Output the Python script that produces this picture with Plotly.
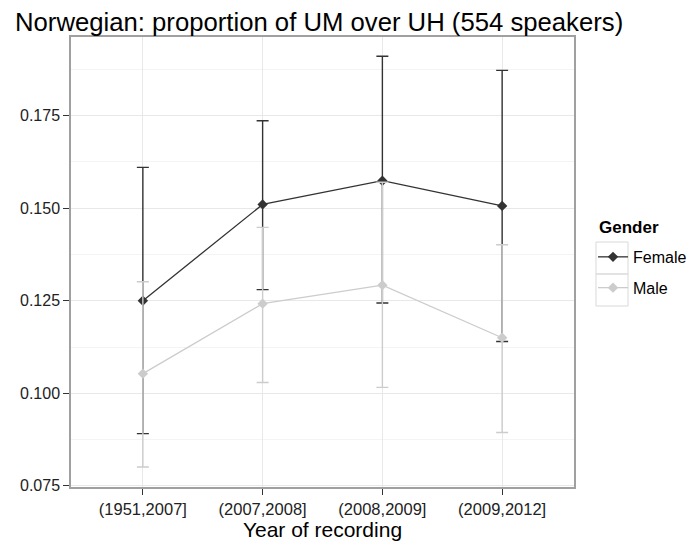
import plotly.graph_objects as go

categories = ["(1951,2007]", "(2007,2008]", "(2008,2009]", "(2009,2012]"]
female_mean = [0.125, 0.151, 0.1574, 0.1506]
female_upper = [0.161, 0.1736, 0.191, 0.1872]
female_lower = [0.0891, 0.128, 0.1244, 0.114]
male_mean = [0.1053, 0.1242, 0.1292, 0.115]
male_upper = [0.1301, 0.1448, 0.157, 0.1401]
male_lower = [0.0801, 0.1029, 0.1016, 0.0894]
y_ticks = [0.075, 0.100, 0.125, 0.150, 0.175]

FEMALE_C = "#333333"
MALE_C = "#cccccc"

fig = go.Figure()

def add_series(name, mean, up, lo, color):
    fig.add_trace(go.Scatter(
        x=categories, y=mean, name=name, mode="lines+markers",
        legendgroup=name,
        line=dict(color=color, width=1.3),
        marker=dict(symbol="diamond", size=8, color=color),
        error_y=dict(type="data", symmetric=False,
                     array=[u - m for u, m in zip(up, mean)],
                     arrayminus=[m - l for m, l in zip(mean, lo)],
                     color=color, thickness=1.4, width=6),
    ))

add_series("Female", female_mean, female_upper, female_lower, FEMALE_C)
add_series("Male", male_mean, male_upper, male_lower, MALE_C)

font_family = "Liberation Sans, Arial, sans-serif"

# legend key boxes (paper coords relative to plot area)
for y0, y1 in [(0.5444, 0.4733), (0.4733, 0.4022)]:
    fig.add_shape(type="rect", xref="paper", yref="paper",
                  x0=1.0437, x1=1.1074, y0=y1, y1=y0,
                  line=dict(color="#d9d9d9", width=1), fillcolor="rgba(0,0,0,0)")

fig.add_annotation(text="<b>Gender</b>", xref="paper", yref="paper",
                   x=1.0457, y=0.5756, xanchor="left", yanchor="middle",
                   showarrow=False, font=dict(size=17, color="#000000"))

fig.update_layout(
    width=680, height=533,
    margin=dict(l=63, r=114, t=29, b=54, autoexpand=False),
    paper_bgcolor="white", plot_bgcolor="white",
    font=dict(family=font_family, color="#000000"),
    title=dict(text="Norwegian: proportion of UM over UH (554 speakers)",
               x=7 / 680, xanchor="left", y=1 - 14 / 533, yanchor="middle",
               font=dict(size=25.7, color="#000000", family=font_family)),
    showlegend=True,
    legend=dict(x=1.0378, xanchor="left", y=0.549, yanchor="top",
                traceorder="grouped", tracegroupgap=7,
                font=dict(size=16, color="#000000"),
                bgcolor="rgba(0,0,0,0)"),
)

fig.update_xaxes(
    type="category", categoryorder="array", categoryarray=categories,
    range=[-0.6, 3.6],
    showgrid=True, gridcolor="#e8e8e8", gridwidth=1.2,
    showline=True, linecolor="#a0a0a0", linewidth=1.5, mirror=True,
    ticks="outside", ticklen=6, tickcolor="#333333", tickwidth=1,
    tickfont=dict(size=16.5, color="#222222"),
    title=dict(text="Year of recording", font=dict(size=21, color="#000000"), standoff=8),
    zeroline=False,
)
fig.update_yaxes(
    range=[0.0747, 0.1962],
    tickvals=y_ticks, ticktext=[f"{v:.3f}" for v in y_ticks],
    showgrid=True, gridcolor="#e8e8e8", gridwidth=1.2,
    minor=dict(tickvals=[0.0875, 0.1125, 0.1375, 0.1625, 0.1875],
               showgrid=True, gridcolor="#f4f4f4", gridwidth=1, ticks=""),
    showline=True, linecolor="#a0a0a0", linewidth=1.5, mirror=True,
    ticks="outside", ticklen=6, tickcolor="#333333", tickwidth=1,
    tickfont=dict(size=16, color="#222222"),
    zeroline=False,
)

fig.write_html("out.html")
